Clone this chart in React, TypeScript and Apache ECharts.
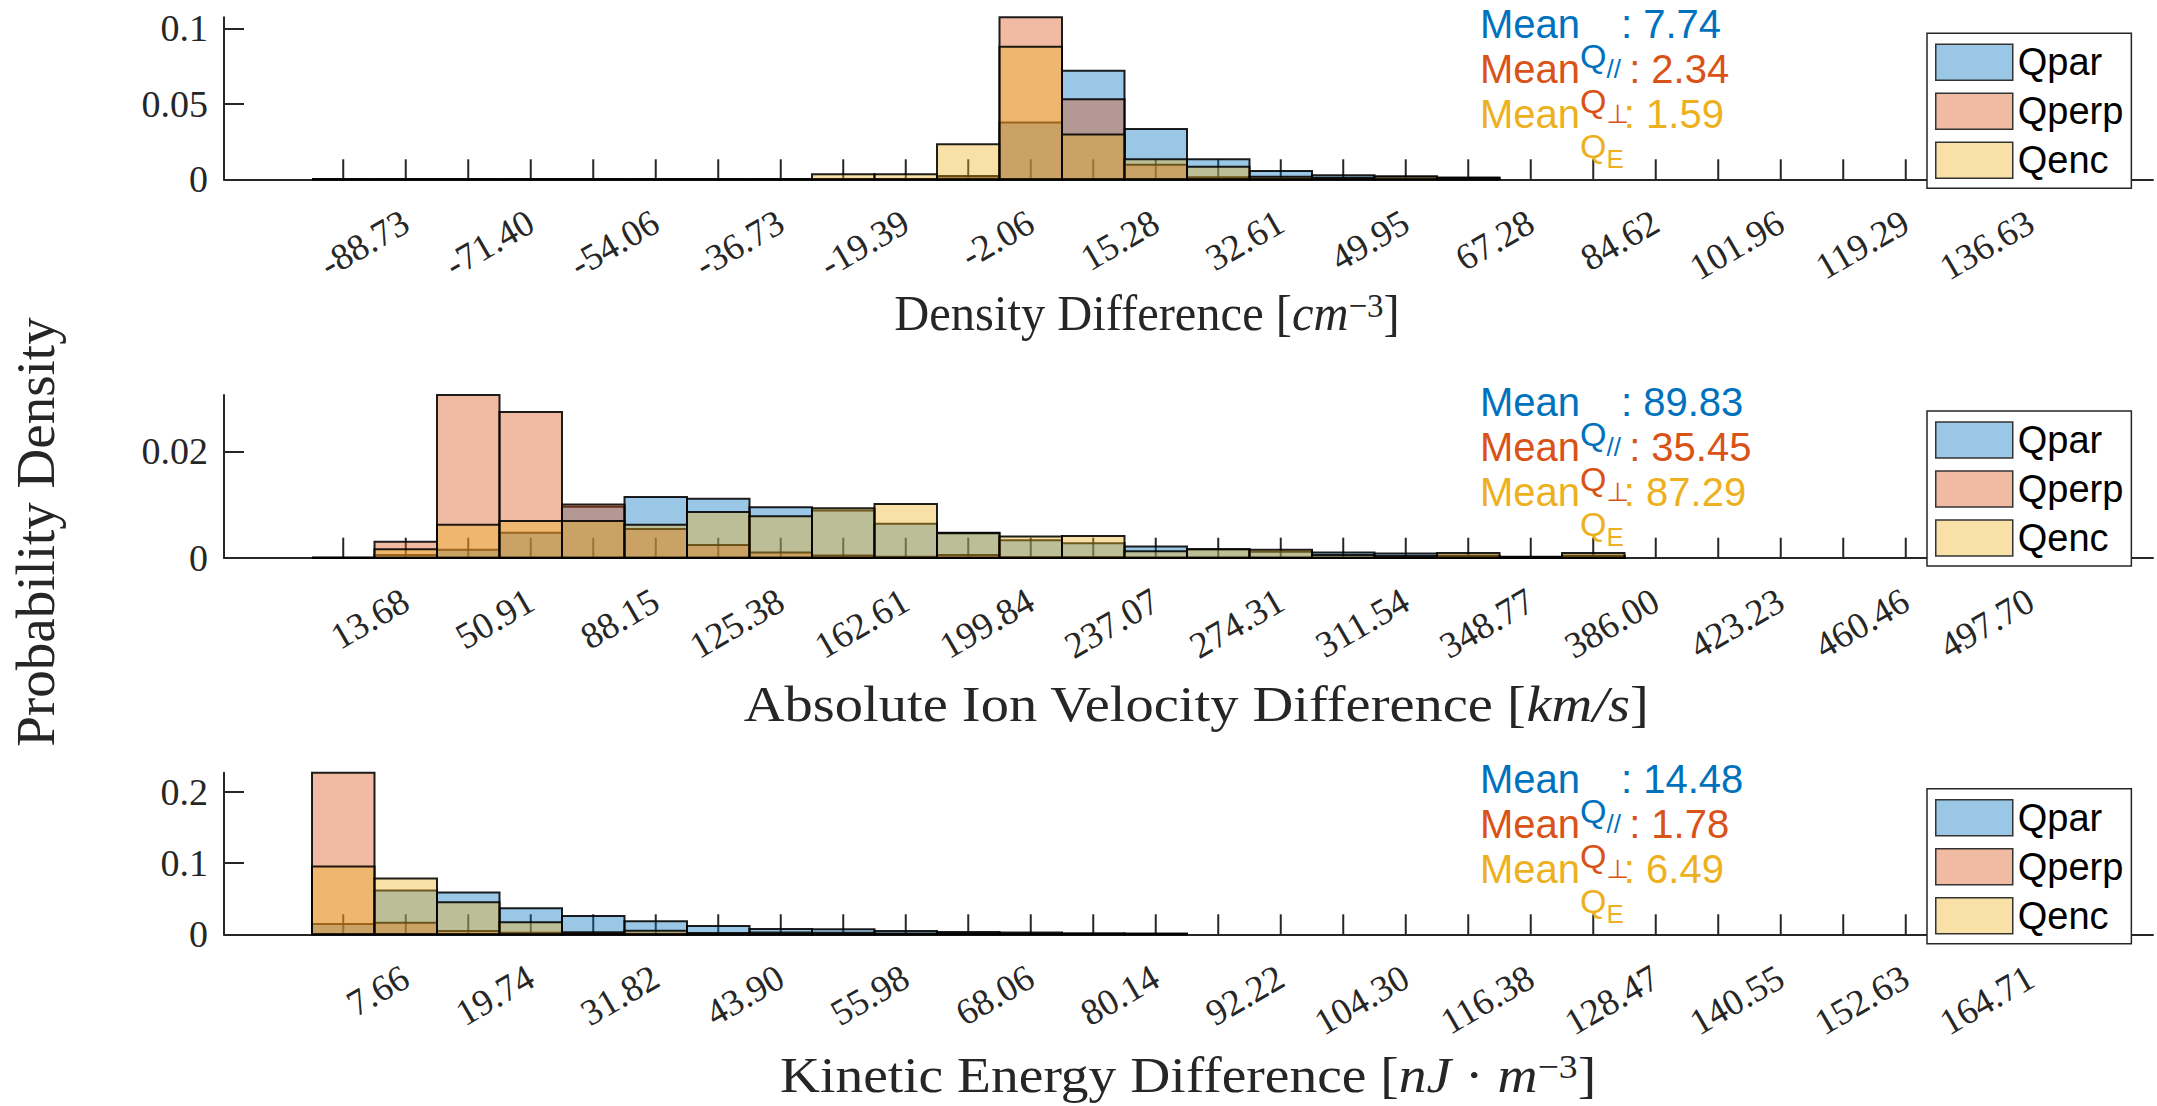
import React, { useEffect, useRef } from 'react';
import * as echarts from 'echarts';

// ---- series identity -------------------------------------------------------
const SERIES_NAMES = ['Qpar', 'Qperp', 'Qenc'];
const LINE_COLORS = ['#0072BD', '#D95319', '#EDB120'];
const FILL_COLORS = ['rgba(0,114,189,0.4)', 'rgba(217,83,25,0.4)', 'rgba(237,177,32,0.4)'];
const MEAN_SUBSCRIPTS = ['//', '\u22A5', 'E'];

// ---- panel 1: density difference ------------------------------------------
const densityTicks = [-88.73, -71.40, -54.06, -36.73, -19.39, -2.06, 15.28, 32.61, 49.95, 67.28, 84.62, 101.96, 119.29, 136.63];
const densityQpar = [0, 0, 0, 0, 0, 0, 0, 0, 0, 0, 0.0018, 0.0377, 0.0719, 0.0333, 0.0132, 0.0055, 0.0026, 0.0018, 0.0012];
const densityQperp = [0, 0, 0, 0, 0, 0, 0, 0, 0, 0, 0.0022, 0.1073, 0.0530, 0.0097, 0.0013, 0.0005, 0.0003, 0.0002, 0];
const densityQenc = [0, 0, 0, 0, 0, 0, 0, 0, 0.0033, 0.0033, 0.0232, 0.0878, 0.0296, 0.0132, 0.0083, 0.0017, 0.0010, 0.0018, 0.0008];
const densityMeans = [7.74, 2.34, 1.59];
const densityYTicks = [0, 0.05, 0.1];

// ---- panel 2: absolute ion velocity difference -----------------------------
const velocityTicks = [13.68, 50.91, 88.15, 125.38, 162.61, 199.84, 237.07, 274.31, 311.54, 348.77, 386.00, 423.23, 460.46, 497.70];
const velocityQpar = [0, 0.0005, 0.0015, 0.0047, 0.0096, 0.0114, 0.0111, 0.0095, 0.0089, 0.0064, 0.0047, 0.0033, 0.0027, 0.0021, 0.0016, 0.0011, 0.0010, 0.0008, 0.0004, 0.0002, 0.0003];
const velocityQperp = [0, 0.0030, 0.0306, 0.0274, 0.0100, 0.0054, 0.0024, 0.0010, 0.0004, 0.0002, 0.0005, 0.0001, 0.0001, 0, 0, 0, 0, 0, 0.0003, 0, 0.0004];
const velocityQenc = [0, 0.0016, 0.0062, 0.0069, 0.0069, 0.0062, 0.0086, 0.0078, 0.0093, 0.0101, 0.0046, 0.0040, 0.0041, 0.0012, 0.0016, 0.0015, 0.0005, 0.0003, 0.0009, 0.0001, 0.0009];
const velocityMeans = [89.83, 35.45, 87.29];
const velocityYTicks = [0, 0.02];

// ---- panel 3: kinetic energy difference ------------------------------------
const energyTicks = [7.66, 19.74, 31.82, 43.90, 55.98, 68.06, 80.14, 92.22, 104.30, 116.38, 128.47, 140.55, 152.63, 164.71];
const energyQpar = [0.0145, 0.0614, 0.0586, 0.0366, 0.0258, 0.0183, 0.0117, 0.0075, 0.0070, 0.0047, 0.0033, 0.0025, 0.0015, 0.0010];
const energyQperp = [0.2268, 0.0163, 0.0047, 0.0023, 0.0012, 0.0008, 0.0003, 0.0002, 0.0002, 0.0001, 0, 0, 0, 0];
const energyQenc = [0.0952, 0.0783, 0.0451, 0.0169, 0.0028, 0.0051, 0.0020, 0.0025, 0.0022, 0.0010, 0.0010, 0.0008, 0.0005, 0.0003];
const energyMeans = [14.48, 1.78, 6.49];
const energyYTicks = [0, 0.1, 0.2];

// ---- styling / layout --------------------------------------------------------
const SERIF = '"Liberation Serif", "Times New Roman", serif';
const SANS = '"Liberation Sans", Arial, "DejaVu Sans", sans-serif';
const AXIS_COLOR = '#262626';
const EDGE_COLOR = 'rgba(0,0,0,0.88)';
const GRID_LEFT = 224;
const GRID_WIDTH = 1929;
const BINS_LEFT_OF_FIRST_EDGE = 1.408; // axis starts this many bin widths before the first bin edge
const BINS_ACROSS = 30.864; // axis width measured in bin widths
const TICK_COUNT = 29; // inward ticks sit at each bin centre
const TICK_LENGTH = 20;

const panels = [
  {
    ticks: densityTicks,
    values: [densityQpar, densityQperp, densityQenc],
    means: densityMeans,
    yTicks: densityYTicks,
    top: 17.3,
    height: 162,
    label: '{t|Density Difference [}{i|cm}{p|\u22123}{t|]}',
    labelX: 1147,
    labelY: 288,
    labelScale: 0.97,
  },
  {
    ticks: velocityTicks,
    values: [velocityQpar, velocityQperp, velocityQenc],
    means: velocityMeans,
    yTicks: velocityYTicks,
    top: 395,
    height: 162.7,
    label: '{t|Absolute Ion Velocity Difference [}{i|km/s}{t|]}',
    labelX: 1196,
    labelY: 679,
    labelScale: 1.13,
  },
  {
    ticks: energyTicks,
    values: [energyQpar, energyQperp, energyQenc],
    means: energyMeans,
    yTicks: energyYTicks,
    top: 772.7,
    height: 161.6,
    label: '{t|Kinetic Energy Difference [}{i|nJ}{t| \u00B7 }{i|m}{p|\u22123}{t|]}',
    labelX: 1188,
    labelY: 1050,
    labelScale: 1.11,
  },
];

const labelRich = {
  t: { fontFamily: SERIF, fontSize: 50, lineHeight: 56, fill: AXIS_COLOR, verticalAlign: 'top' },
  i: { fontFamily: SERIF, fontSize: 50, lineHeight: 56, fill: AXIS_COLOR, fontStyle: 'italic', verticalAlign: 'top' },
  p: { fontFamily: SERIF, fontSize: 34, lineHeight: 26, fill: AXIS_COLOR, verticalAlign: 'top' },
};

const meanRich = (color: string) => ({
  m: { fontFamily: SANS, fontSize: 40, fontWeight: 'normal', lineHeight: 44, color, verticalAlign: 'top' },
  q: { fontFamily: SANS, fontSize: 34, fontWeight: 'normal', lineHeight: 34, color, verticalAlign: 'top', padding: [35, 0, 0, 0] },
  s: { fontFamily: SANS, fontSize: 26, fontWeight: 'normal', lineHeight: 28, color, verticalAlign: 'top', padding: [52, 0, 0, 0] },
  v: { fontFamily: SANS, fontSize: 40, fontWeight: 'normal', lineHeight: 44, color, verticalAlign: 'top' },
});

const renderBin = (fill: string) => (_params: any, api: any) => {
  const topLeft = api.coord([api.value(0), api.value(2)]);
  const bottomRight = api.coord([api.value(1), 0]);
  return {
    type: 'rect',
    shape: {
      x: topLeft[0],
      y: topLeft[1],
      width: bottomRight[0] - topLeft[0],
      height: bottomRight[1] - topLeft[1],
    },
    style: { fill, stroke: EDGE_COLOR, lineWidth: 2 },
  };
};

// inward x-axis tick marks, one per bin centre
const renderTick = (_params: any, api: any) => {
  const base = api.coord([api.value(0), 0]);
  return {
    type: 'line',
    shape: { x1: base[0], y1: base[1], x2: base[0], y2: base[1] - TICK_LENGTH },
    style: { stroke: AXIS_COLOR, lineWidth: 2 },
  };
};

function buildOption() {
  const grid: any[] = [];
  const xAxis: any[] = [];
  const yAxis: any[] = [];
  const series: any[] = [];
  const legend: any[] = [];
  const title: any[] = [];
  const graphic: any[] = [];

  panels.forEach((p, i) => {
    const binWidth = (p.ticks[p.ticks.length - 1] - p.ticks[0]) / ((p.ticks.length - 1) * 2);
    const firstEdge = p.ticks[0] - 1.5 * binWidth;
    const xMin = firstEdge - BINS_LEFT_OF_FIRST_EDGE * binWidth;
    const xMax = xMin + BINS_ACROSS * binWidth;
    const centers = Array.from({ length: TICK_COUNT }, (_, k) => firstEdge + (k + 0.5) * binWidth);
    const yMax = Math.max(...p.values.flat());

    grid.push({ left: GRID_LEFT, top: p.top, width: GRID_WIDTH, height: p.height });

    xAxis.push({
      type: 'value',
      gridIndex: i,
      min: xMin,
      max: xMax,
      axisLine: { show: true, onZero: false, lineStyle: { color: AXIS_COLOR, width: 2 } },
      axisTick: { show: false },
      axisLabel: {
        show: true,
        rotate: 30,
        margin: 40,
        fontFamily: SERIF,
        fontSize: 37,
        color: AXIS_COLOR,
        customValues: p.ticks,
        formatter: (v: number) => v.toFixed(2),
      },
      splitLine: { show: false },
    });

    yAxis.push({
      type: 'value',
      gridIndex: i,
      position: 'left',
      min: 0,
      max: yMax,
      axisLine: { show: true, onZero: false, lineStyle: { color: AXIS_COLOR, width: 2 } },
      axisTick: {
        show: true,
        inside: true,
        length: TICK_LENGTH,
        lineStyle: { color: AXIS_COLOR, width: 2 },
        customValues: p.yTicks,
      },
      axisLabel: {
        show: true,
        margin: 16,
        fontFamily: SERIF,
        fontSize: 38,
        color: AXIS_COLOR,
        customValues: p.yTicks,
        formatter: (v: number) => String(v),
      },
      splitLine: { show: false },
    });

    series.push({
      type: 'custom',
      name: 'ticks',
      xAxisIndex: i,
      yAxisIndex: i,
      silent: true,
      encode: { x: 0, y: 1 },
      data: centers.map((c) => [c, 0]),
      renderItem: renderTick,
    });

    p.values.forEach((heights, j) => {
      series.push({
        type: 'custom',
        name: SERIES_NAMES[j],
        xAxisIndex: i,
        yAxisIndex: i,
        silent: true,
        itemStyle: { color: FILL_COLORS[j] },
        encode: { x: [0, 1], y: 2 },
        data: heights.map((h, k) => [firstEdge + k * binWidth, firstEdge + (k + 1) * binWidth, h]),
        renderItem: renderBin(FILL_COLORS[j]),
      });
    });

    legend.push({
      left: 1927,
      top: p.top + 16,
      orient: 'vertical',
      icon: 'rect',
      itemWidth: 77,
      itemHeight: 36,
      itemGap: 11,
      padding: [10, 8, 9, 8],
      backgroundColor: '#ffffff',
      borderColor: AXIS_COLOR,
      borderWidth: 1.5,
      selectedMode: false,
      textStyle: { fontFamily: SANS, fontSize: 38, lineHeight: 36, color: '#000000' },
      data: SERIES_NAMES.map((n, j) => ({
        name: n,
        itemStyle: { color: FILL_COLORS[j], borderColor: '#333333', borderWidth: 1.5 },
      })),
    });

    p.means.forEach((m, j) => {
      title.push({
        text: `{m|Mean}{q|Q}{s|${MEAN_SUBSCRIPTS[j]}}{v|: ${m.toFixed(2)}}`,
        left: 1480,
        top: p.top - 13.5 + j * 45,
        padding: 0,
        textStyle: { fontWeight: 'normal', rich: meanRich(LINE_COLORS[j]) },
      });
    });

    graphic.push({
      type: 'text',
      x: p.labelX,
      y: p.labelY,
      scaleX: p.labelScale,
      silent: true,
      style: {
        text: p.label,
        rich: labelRich,
        fill: AXIS_COLOR,
        align: 'center',
        verticalAlign: 'top',
      },
    });
  });

  graphic.push({
    type: 'text',
    x: 35,
    y: 532,
    rotation: Math.PI / 2,
    silent: true,
    style: {
      text: 'Probability Density',
      fontFamily: SERIF,
      fontSize: 55,
      fill: AXIS_COLOR,
      align: 'center',
      verticalAlign: 'middle',
    },
  });

  return {
    animation: false,
    backgroundColor: '#ffffff',
    grid,
    xAxis,
    yAxis,
    series,
    legend,
    title,
    graphic,
  };
}

export default function App() {
  const ref = useRef<HTMLDivElement>(null);

  useEffect(() => {
    if (!ref.current) return;
    const chart = echarts.init(ref.current, undefined, { renderer: 'svg' });
    chart.setOption(buildOption() as any);
    return () => chart.dispose();
  }, []);

  return (
    <div
      ref={ref}
      style={{ position: 'fixed', left: 0, top: 0, width: 2157, height: 1106, background: '#ffffff' }}
    />
  );
}
